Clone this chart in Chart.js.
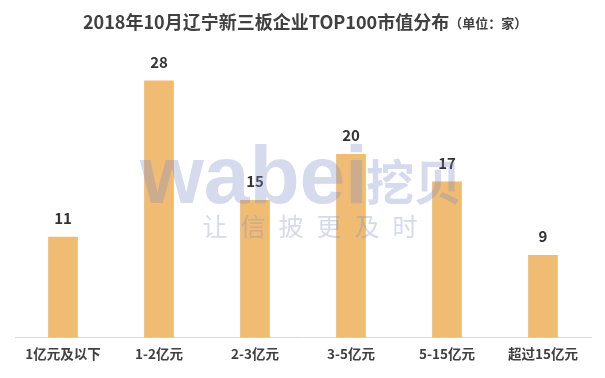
<!DOCTYPE html>
<html><head><meta charset="utf-8">
<script src="https://cdn.jsdelivr.net/npm/chart.js@4"></script>
<style>html,body{margin:0;padding:0;background:#fff;}#wrap{width:605px;height:378px;position:relative;}</style>
</head><body><div id="wrap"><canvas id="c" width="605" height="378"></canvas></div>
<script>
const categories = ['1亿元及以下', '1-2亿元', '2-3亿元', '3-5亿元', '5-15亿元', '超过15亿元'];
const counts = [11, 28, 15, 20, 17, 9];
const titleMain = '2018年10月辽宁新三板企业TOP100市值分布';
const titleUnit = '（单位：家）';

const FONT = '"Microsoft YaHei","Noto Sans CJK SC","Noto Sans",sans-serif';

const deco = {
  id: 'deco',
  afterDatasetsDraw(chart) {
    const ctx = chart.ctx;
    const meta = chart.getDatasetMeta(0);
    ctx.save();
    ctx.fillStyle = '#333';
    ctx.font = 'bold 15px ' + FONT;
    ctx.textAlign = 'center';
    ctx.textBaseline = 'bottom';
    meta.data.forEach((bar, i) => {
      ctx.fillText(String(counts[i]), bar.x, bar.y - 11);
    });
    // watermark
    ctx.fillStyle = 'rgba(125,140,195,0.32)';
    ctx.textAlign = 'left';
    ctx.textBaseline = 'alphabetic';
    ctx.font = 'bold 82px "Liberation Sans", Arial, sans-serif';
    ctx.fillText('wabei', 140, 203);
    ctx.font = 'bold 48px ' + FONT;
    ctx.fillText('挖贝', 366, 200);
    ctx.font = '25px ' + FONT;
    ctx.textAlign = 'center';
    ctx.textBaseline = 'middle';
    const chars = '让信披更及时'.split('');
    chars.forEach((ch, i) => ctx.fillText(ch, 215 + i * 38, 226));
    ctx.restore();
  },
  afterDraw(chart) {
    const ctx = chart.ctx;
    ctx.save();
    ctx.fillStyle = '#404040';
    ctx.textBaseline = 'alphabetic';
    ctx.font = 'bold 18px ' + FONT;
    const w1 = ctx.measureText(titleMain).width;
    const x0 = 83;
    ctx.textAlign = 'left';
    ctx.fillText(titleMain, x0, 29);
    ctx.font = 'bold 13px ' + FONT;
    ctx.fillText(titleUnit, x0 + w1, 28);
    ctx.restore();
  }
};

new Chart(document.getElementById('c'), {
  type: 'bar',
  data: {
    labels: categories,
    datasets: [{
      data: counts,
      backgroundColor: '#F0BC73',
      categoryPercentage: 1,
      barPercentage: 0.31
    }]
  },
  options: {
    responsive: false,
    animation: false,
    devicePixelRatio: 1,
    layout: { padding: { left: 15, right: 14, top: 62, bottom: 8 } },
    plugins: { legend: { display: false }, tooltip: { enabled: false }, title: { display: false } },
    scales: {
      x: {
        grid: { display: false, drawTicks: false },
        border: { display: true, color: '#D9D9D9', width: 1 },
        ticks: { color: '#404040', font: { size: 13.5, weight: 'bold', family: FONT }, padding: 8, maxRotation: 0 }
      },
      y: {
        display: false,
        min: 0, max: 30
      }
    }
  },
  plugins: [deco]
});
</script>
</body></html>
